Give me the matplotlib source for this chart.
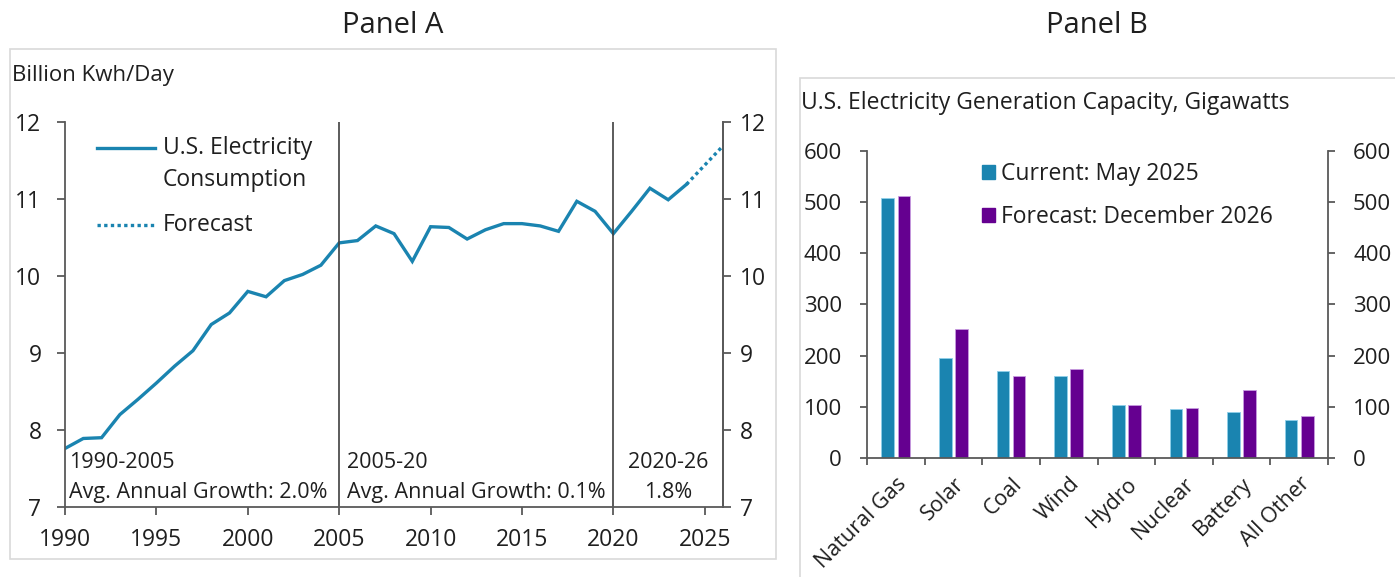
import numpy as np
import matplotlib
matplotlib.use('Agg')
import matplotlib.pyplot as plt
from matplotlib.patches import Rectangle

plt.rcParams['font.family'] = ['Open Sans', 'DejaVu Sans']

# Panel A: U.S. electricity consumption, billion kWh per day
years = list(range(1990, 2025))
consumption = [7.76, 7.89, 7.90, 8.20, 8.40, 8.61, 8.83, 9.03, 9.37, 9.52,
               9.80, 9.73, 9.94, 10.02, 10.14, 10.43, 10.46, 10.65, 10.55, 10.19,
               10.64, 10.63, 10.48, 10.60, 10.68, 10.68, 10.65, 10.58, 10.97, 10.84,
               10.55, 10.84, 11.14, 10.99, 11.19]
forecast_years = [2024, 2025, 2026]
forecast_values = [11.19, 11.44, 11.69]

# Panel B: generation capacity, gigawatts
sources = ['Natural Gas', 'Solar', 'Coal', 'Wind', 'Hydro', 'Nuclear', 'Battery', 'All Other']
current_gw = [509, 195, 170, 161, 103, 96, 89, 75]
forecast_gw = [512, 252, 161, 174, 103, 98, 133, 83]

blue = '#1a84b0'
purple = '#650090'
txt = '#1f1f1f'
axis_col = '#595959'

fig = plt.figure(figsize=(13.95, 5.77), dpi=100)

# panel frames
fig.patches.append(Rectangle((0.0072, 0.031), 0.5488, 0.884, transform=fig.transFigure,
                             fill=False, edgecolor='#d9d9d9', lw=1.2))
fig.patches.append(Rectangle((0.5735, -0.05), 0.5, 0.915, transform=fig.transFigure,
                             fill=False, edgecolor='#d9d9d9', lw=1.2))

fig.text(0.2817, 0.955, 'Panel A', ha='center', va='center', fontsize=21, color=txt)
fig.text(0.786, 0.955, 'Panel B', ha='center', va='center', fontsize=21, color=txt)

# ---- Panel A ----
ax = fig.add_axes([0.0466, 0.1213, 0.4717, 0.6673])
ax.plot(years, consumption, color=blue, lw=2.4, solid_joinstyle='miter')
ax.plot(forecast_years, forecast_values, color=blue, lw=2.4, linestyle=(0, (1, 1)))
ax.axvline(2005, color='#404040', lw=1.2)
ax.axvline(2020, color='#404040', lw=1.2)
ax.set_xlim(1990, 2026)
ax.set_ylim(7, 12)
ax.set_xticks(range(1990, 2026, 5))
ax.set_yticks(range(7, 13))
ax.spines['top'].set_visible(False)
for s in ['left', 'right', 'bottom']:
    ax.spines[s].set_color(axis_col)
    ax.spines[s].set_linewidth(1.3)
ax.tick_params(axis='both', labelsize=16.5, colors=axis_col, labelcolor=txt, width=1.3, length=6)
ax.tick_params(axis='y', pad=11)
ax.tick_params(axis='x', pad=9)

axr = ax.twinx()
axr.set_ylim(7, 12)
axr.set_yticks(range(7, 13))
for s in ['top', 'left', 'bottom']:
    axr.spines[s].set_visible(False)
axr.spines['right'].set_color(axis_col)
axr.spines['right'].set_linewidth(1.3)
axr.tick_params(axis='y', labelsize=16.5, colors=axis_col, labelcolor=txt, width=1.3, length=6, pad=6)

# legend keys
ax.plot([0.0486, 0.137], [0.932, 0.932], transform=ax.transAxes, color=blue, lw=2.4)
ax.plot([0.0486, 0.137], [0.732, 0.732], transform=ax.transAxes, color=blue, lw=2.4,
        linestyle=(0, (1, 1)))
ax.text(0.149, 0.932, 'U.S. Electricity', transform=ax.transAxes, va='center', fontsize=16.5, color=txt)
ax.text(0.149, 0.849, 'Consumption', transform=ax.transAxes, va='center', fontsize=16.5, color=txt)
ax.text(0.149, 0.732, 'Forecast', transform=ax.transAxes, va='center', fontsize=16.5, color=txt)

ax.text(1990.2, 7.58, '1990-2005', va='center', fontsize=15.5, color=txt)
ax.text(1990.2, 7.19, 'Avg. Annual Growth: 2.0%', va='center', fontsize=15.5, color=txt)
ax.text(2005.45, 7.58, '2005-20', va='center', fontsize=15.5, color=txt)
ax.text(2005.45, 7.19, 'Avg. Annual Growth: 0.1%', va='center', fontsize=15.5, color=txt)
ax.text(2023.0, 7.58, '2020-26', ha='center', va='center', fontsize=15.5, color=txt)
ax.text(2023.0, 7.19, '1.8%', ha='center', va='center', fontsize=15.5, color=txt)

fig.text(0.0086, 0.87, 'Billion Kwh/Day', va='center', fontsize=16, color=txt)

# ---- Panel B ----
bx = fig.add_axes([0.6215, 0.2063, 0.3305, 0.532])
x = np.arange(len(sources))
bx.bar(x - 0.14, current_gw, 0.22, color=blue, edgecolor='#8fd0ea', lw=0.6)
bx.bar(x + 0.14, forecast_gw, 0.22, color=purple, edgecolor='#c79be0', lw=0.6)
bx.set_xlim(-0.5, len(sources) - 0.5)
bx.set_ylim(0, 600)
bx.set_yticks(range(0, 601, 100))
bx.set_xticks(np.arange(-0.5, len(sources), 1))
bx.set_xticklabels([])
bx.set_xticks(x, minor=True)
bx.set_xticklabels(sources, minor=True, rotation=45, ha='right', rotation_mode='anchor',
                   fontsize=15.5, color=txt)
bx.tick_params(axis='x', which='minor', length=0, pad=11)
bx.spines['top'].set_visible(False)
for s in ['left', 'right', 'bottom']:
    bx.spines[s].set_color(axis_col)
    bx.spines[s].set_linewidth(1.3)
bx.tick_params(axis='both', which='major', labelsize=16, colors=axis_col, labelcolor=txt, width=1.3, length=5)
bx.tick_params(axis='y', right=True, labelright=True, pad=13)

handles = [Rectangle((0, 0), 1, 1, color=blue), Rectangle((0, 0), 1, 1, color=purple)]
bx.legend(handles, ['Current: May 2025', 'Forecast: December 2026'], loc='upper left',
          bbox_to_anchor=(0.204, 1.03), frameon=False, fontsize=16.5, handlelength=0.57,
          handleheight=0.57, handletextpad=0.26, labelspacing=0.8, labelcolor=txt)

fig.text(0.5745, 0.8215, 'U.S. Electricity Generation Capacity, Gigawatts', va='center',
         fontsize=16.5, color=txt)

fig.savefig('out.png', dpi=100)
